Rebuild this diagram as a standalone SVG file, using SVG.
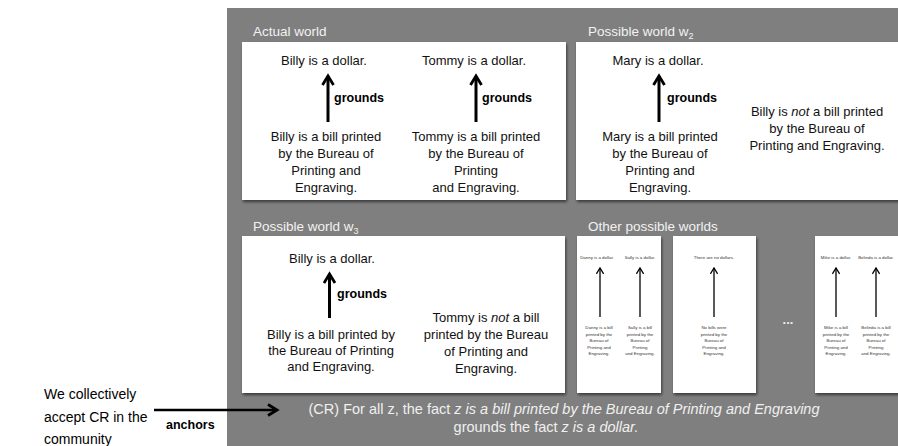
<svg xmlns="http://www.w3.org/2000/svg" width="898" height="446" viewBox="0 0 898 446">
<defs>
<filter id="sh" x="-10%" y="-10%" width="130%" height="130%">
<feDropShadow dx="1" dy="2" stdDeviation="1.5" flood-color="#000" flood-opacity="0.55"/>
</filter>
<marker id="chev" viewBox="0 0 14 14" refX="11" refY="7" markerWidth="14" markerHeight="14" markerUnits="userSpaceOnUse" orient="auto">
<path d="M2,1.5 L11,7 L2,12.5" fill="none" stroke="#000" stroke-width="2.8" stroke-linejoin="miter"/>
</marker>
<marker id="chevs" viewBox="0 0 10 10" refX="8" refY="5" markerWidth="9" markerHeight="9" markerUnits="userSpaceOnUse" orient="auto">
<path d="M1.5,1 L8,5 L1.5,9" fill="none" stroke="#000" stroke-width="1.4"/>
</marker>
</defs>
<style>
.bg{fill:#7f7f7f}
.panel{fill:#fff;filter:url(#sh)}
.title{font-family:"Liberation Sans",Arial,sans-serif;font-size:13.5px;fill:#f2f2f2}
.t{font-family:"Liberation Sans",Arial,sans-serif;font-size:13px;fill:#111;text-anchor:middle}
.g{font-family:"Liberation Sans",Arial,sans-serif;font-size:12.5px;font-weight:bold;fill:#000}
.s{font-family:"Liberation Sans",Arial,sans-serif;font-size:4.4px;fill:#333;text-anchor:middle}
.big{stroke:#000;stroke-width:3;fill:none;marker-end:url(#chev)}
.sm{stroke:#000;stroke-width:1.3;fill:none;marker-end:url(#chevs)}
.cr{font-family:"Liberation Sans",Arial,sans-serif;font-size:14.5px;fill:#f0f0f0;text-anchor:middle}
.lt{font-family:"Liberation Sans",Arial,sans-serif;font-size:14px;fill:#000}
</style>
<rect class="bg" x="227" y="8" width="671" height="438"/>

<g id="actual-world">
<text class="title" x="253" y="36">Actual world</text>
<rect class="panel" x="242" y="42" width="324" height="158"/>
<text class="t" x="324" y="65">Billy is a dollar.</text>
<text class="t" x="474" y="65">Tommy is a dollar.</text>
<text class="g" x="334" y="102">grounds</text>
<text class="g" x="482" y="102">grounds</text>
<text class="t" x="326" y="141">Billy is a bill printed<tspan x="326" dy="17">by the Bureau of</tspan><tspan x="326" dy="17">Printing and</tspan><tspan x="326" dy="17">Engraving.</tspan></text>
<text class="t" x="476" y="141">Tommy is a bill printed<tspan x="476" dy="17">by the Bureau of</tspan><tspan x="476" dy="17">Printing</tspan><tspan x="476" dy="17">and Engraving.</tspan></text>
</g>

<g id="world-w2">
<text class="title" x="588" y="36">Possible world w<tspan font-size="9" dy="3">2</tspan></text>
<rect class="panel" x="576" y="42" width="330" height="158"/>
<text class="t" x="658" y="65">Mary is a dollar.</text>
<text class="g" x="667" y="102">grounds</text>
<text class="t" x="660" y="141">Mary is a bill printed<tspan x="660" dy="17">by the Bureau of</tspan><tspan x="660" dy="17">Printing and</tspan><tspan x="660" dy="17">Engraving.</tspan></text>
<text class="t" x="817" y="116">Billy is <tspan font-style="italic">not</tspan> a bill printed<tspan x="817" dy="17">by the Bureau of</tspan><tspan x="817" dy="17">Printing and Engraving.</tspan></text>
</g>

<g id="world-w3">
<text class="title" x="253" y="231">Possible world w<tspan font-size="9" dy="3">3</tspan></text>
<rect class="panel" x="242" y="236" width="323" height="157"/>
<text class="t" x="332" y="263">Billy is a dollar.</text>
<text class="g" x="337" y="298">grounds</text>
<text class="t" x="331" y="339">Billy is a bill printed by<tspan x="331" dy="16">the Bureau of Printing</tspan><tspan x="331" dy="16">and Engraving.</tspan></text>
<text class="t" x="486" y="322">Tommy is <tspan font-style="italic">not</tspan> a bill<tspan x="486" dy="17">printed by the Bureau</tspan><tspan x="486" dy="17">of Printing and</tspan><tspan x="486" dy="17">Engraving.</tspan></text>
</g>

<g id="other-worlds">
<text class="title" x="588" y="231">Other possible worlds</text>
</g>

<g id="other-world-1">
<rect class="panel" x="577" y="236" width="84" height="157"/>
<text class="s" x="597" y="258.5">Danny is a dollar.</text>
<text class="s" x="640" y="258.5">Sally is a dollar.</text>
<text class="s" x="599" y="329">Danny is a bill<tspan x="599" dy="6.5">printed by the</tspan><tspan x="599" dy="6.5">Bureau of</tspan><tspan x="599" dy="6.5">Printing and</tspan><tspan x="599" dy="6.5">Engraving.</tspan></text>
<text class="s" x="640" y="329">Sally is a bill<tspan x="640" dy="6.5">printed by the</tspan><tspan x="640" dy="6.5">Bureau of</tspan><tspan x="640" dy="6.5">Printing</tspan><tspan x="640" dy="6.5">and Engraving.</tspan></text>
</g>

<g id="other-world-2">
<rect class="panel" x="673" y="236" width="83" height="157"/>
<text class="s" x="714" y="258.5">There are no dollars.</text>
<text class="s" x="714" y="329">No bills were<tspan x="714" dy="6.5">printed by the</tspan><tspan x="714" dy="6.5">Bureau of</tspan><tspan x="714" dy="6.5">Printing and</tspan><tspan x="714" dy="6.5">Engraving.</tspan></text>
</g>

<g id="ellipsis">
<text x="788" y="324" font-family="Liberation Sans, Arial, sans-serif" font-size="13" font-weight="bold" fill="#eeeeee" text-anchor="middle">...</text>
</g>

<g id="other-world-3">
<rect class="panel" x="815" y="236" width="90" height="157"/>
<text class="s" x="836" y="258.5">Mike is a dollar.</text>
<text class="s" x="876" y="258.5">Belinda is a dollar.</text>
<text class="s" x="836" y="329">Mike is a bill<tspan x="836" dy="6.5">printed by the</tspan><tspan x="836" dy="6.5">Bureau of</tspan><tspan x="836" dy="6.5">Printing and</tspan><tspan x="836" dy="6.5">Engraving.</tspan></text>
<text class="s" x="876" y="329">Belinda is a bill<tspan x="876" dy="6.5">printed by the</tspan><tspan x="876" dy="6.5">Bureau of</tspan><tspan x="876" dy="6.5">Printing</tspan><tspan x="876" dy="6.5">and Engraving.</tspan></text>
</g>

<g id="cr-rule">
<text class="cr" x="564" y="414">(CR) For all z, the fact <tspan font-style="italic">z is a bill printed by the Bureau of Printing and Engraving</tspan></text>
<text class="cr" x="546" y="432">grounds the fact <tspan font-style="italic">z is a dollar.</tspan></text>
</g>

<g id="community">
<text class="lt" x="44" y="399">We collectively<tspan x="44" dy="22.5">accept CR in the</tspan><tspan x="44" dy="22.5">community</tspan></text>
</g>

<g id="connectors">
<path class="big" d="M154,410 L277,410" style="stroke-width:2.5"/>
<text class="g" x="166" y="429">anchors</text>
<path class="big" d="M328,122 L328,76"/>
<path class="big" d="M476,122 L476,76"/>
<path class="big" d="M659,122 L659,76"/>
<path class="big" d="M329.5,318 L329.5,274"/>
<path class="sm" d="M600,317 L600,268"/>
<path class="sm" d="M640,317 L640,268"/>
<path class="sm" d="M714,317 L714,268"/>
<path class="sm" d="M836,317 L836,268"/>
<path class="sm" d="M876,317 L876,268"/>
</g>
</svg>
